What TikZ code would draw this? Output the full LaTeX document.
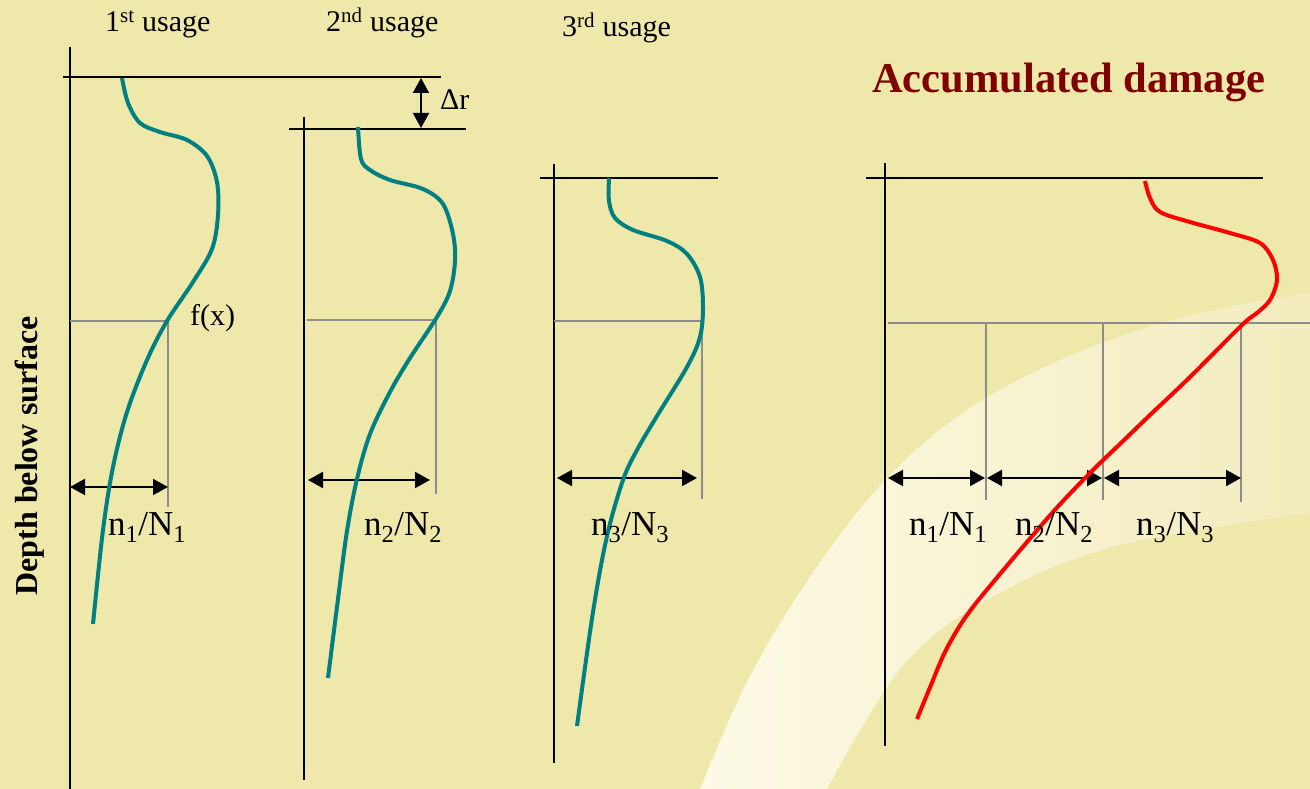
\documentclass[tikz,border=0pt]{standalone}
\usepackage{fontspec}
\setmainfont{Liberation Serif}
\usetikzlibrary{arrows.meta}
\definecolor{bg}{HTML}{EEE8AA}
\definecolor{tealc}{HTML}{008080}
\definecolor{dredc}{HTML}{800000}
\definecolor{guidec}{HTML}{8C8C8C}
\definecolor{swA}{HTML}{FDFAE6}
\definecolor{swB}{HTML}{F2ECBE}
\begin{document}
\begin{tikzpicture}[x=1pt,y=-1pt,
  axisline/.style={black,line width=1.9pt},
  guide/.style={guidec,line width=1.8pt},
  dimarrow/.style={black,line width=2.2pt,{Triangle[length=15pt,width=16pt]}-{Triangle[length=15pt,width=16pt]}},
  prof/.style={tealc,line width=4pt,smooth,tension=0.55},
  accprof/.style={red,line width=4pt,smooth,tension=0.55},
  usagetxt/.style={font=\fontsize{30}{36}\selectfont,inner sep=0pt,anchor=base west},
  fractxt/.style={font=\fontsize{35}{42}\selectfont,inner sep=0pt,anchor=base west},
]
\useasboundingbox (0,0) rectangle (1310,789);
\fill[bg] (0,0) rectangle (1310,789);
% background swoosh
\begin{scope}
\clip plot[smooth,tension=0.6] coordinates {(700,789) (748,680) (808,580) (878,488) (958,416) (1060,360) (1180,318) (1310,292)}
  -- (1310,513) -- plot[smooth,tension=0.6] coordinates {(1310,513) (1113,547) (987,600) (902,667) (827,789)} -- cycle;
\shade[left color=swA,right color=swB] (690,280) rectangle (1310,789);
\end{scope}

% ---------- panel 1 ----------
\draw[axisline] (70,47) -- (70,789);
\draw[axisline] (63,77) -- (441,77);
\draw[guide] (70,321) -- (168,321) -- (168,507);
\coordinate (a1l) at (70,487);
\coordinate (a1r) at (168,487);
\draw[dimarrow] (a1l) -- (a1r);
\draw[prof] plot coordinates {(122,78) (128,103) (140,123) (160,132) (187,140) (207,156) (217,182) (218,215) (212,249) (193,282) (167,321) (147,360) (127,412) (113,467) (103,530) (93,624)};
\node[usagetxt] (u1) at (105,32) {1\textsuperscript{st} usage};
\node[usagetxt] (fx) at (190,325) {f(x)};
\node[fractxt] (f1) at (108,535) {n\textsubscript{1}/N\textsubscript{1}};

% delta r
\coordinate (drt) at (421,78);
\coordinate (drb) at (421,128);
\draw[dimarrow] (drt) -- (drb);
\node[usagetxt] (dr) at (440,110) {Δr};

% ---------- panel 2 ----------
\draw[axisline] (304,117) -- (304,780);
\draw[axisline] (289,129) -- (466,129);
\draw[guide] (307,320) -- (436,320) -- (436,494);
\coordinate (a2l) at (308,480);
\coordinate (a2r) at (430,480);
\draw[dimarrow] (a2l) -- (a2r);
\draw[prof] plot coordinates {(358,127) (361,159) (370,170) (390,180) (423,189) (443,204) (453,234) (455,261) (450,291) (437,317) (410,358) (390,392) (370,434) (357,479) (347,531) (338,599) (328,678)};
\node[usagetxt] (u2) at (326,32) {2\textsuperscript{nd} usage};
\node[fractxt] (f2) at (364,535) {n\textsubscript{2}/N\textsubscript{2}};

% ---------- panel 3 ----------
\draw[axisline] (554,164) -- (554,763);
\draw[axisline] (540,178) -- (718,178);
\draw[guide] (554,321) -- (702,321) -- (702,499);
\coordinate (a3l) at (557,478);
\coordinate (a3r) at (697,478);
\draw[dimarrow] (a3l) -- (a3r);
\draw[prof] plot coordinates {(609,178) (609,201) (615,218) (633,230) (667,241) (687,254) (700,277) (703,307) (700,337) (687,367) (657,416) (637,450) (623,480) (607,536) (593,612) (577,726)};
\node[usagetxt] (u3) at (562,37) {3\textsuperscript{rd} usage};
\node[fractxt] (f3) at (591,535) {n\textsubscript{3}/N\textsubscript{3}};

% ---------- panel 4 ----------
\draw[axisline] (885,163) -- (885,746);
\draw[axisline] (866,178) -- (1263,178);
\draw[guide] (888,323) -- (1310,323);
\draw[guide] (986,323) -- (986,500);
\draw[guide] (1103,323) -- (1103,500);
\draw[guide] (1241,323) -- (1241,502);
\coordinate (b0) at (888,478);
\coordinate (b1) at (985,478);
\coordinate (b1r) at (987,478);
\coordinate (b2) at (1102,478);
\coordinate (b2r) at (1104,478);
\coordinate (b3) at (1241,478);
\draw[dimarrow] (b0) -- (b1);
\draw[dimarrow] (b1r) -- (b2);
\draw[dimarrow] (b2r) -- (b3);
\draw[accprof] plot coordinates {(1145,181) (1150,198) (1160,212) (1190,222) (1230,233) (1260,243) (1273,260) (1277,280) (1270,300) (1257,313) (1242,325) (1189,378) (1150,415) (1121,443) (1092,471) (1053,512) (1000,574) (967,615) (946,650) (931,685) (917,719)};
\node[fractxt] (g1) at (909,535) {n\textsubscript{1}/N\textsubscript{1}};
\node[fractxt] (g2) at (1015,535) {n\textsubscript{2}/N\textsubscript{2}};
\node[fractxt] (g3) at (1136,535) {n\textsubscript{3}/N\textsubscript{3}};
\node[inner sep=0pt,anchor=base west,text=dredc,font=\fontsize{42.5}{48}\selectfont\bfseries] (title) at (872,93) {Accumulated damage};

% y label
\node[rotate=90,anchor=base,inner sep=0pt,font=\fontsize{32}{38}\selectfont\bfseries] (depth) at (37,456) {Depth below surface};
\end{tikzpicture}
\end{document}
